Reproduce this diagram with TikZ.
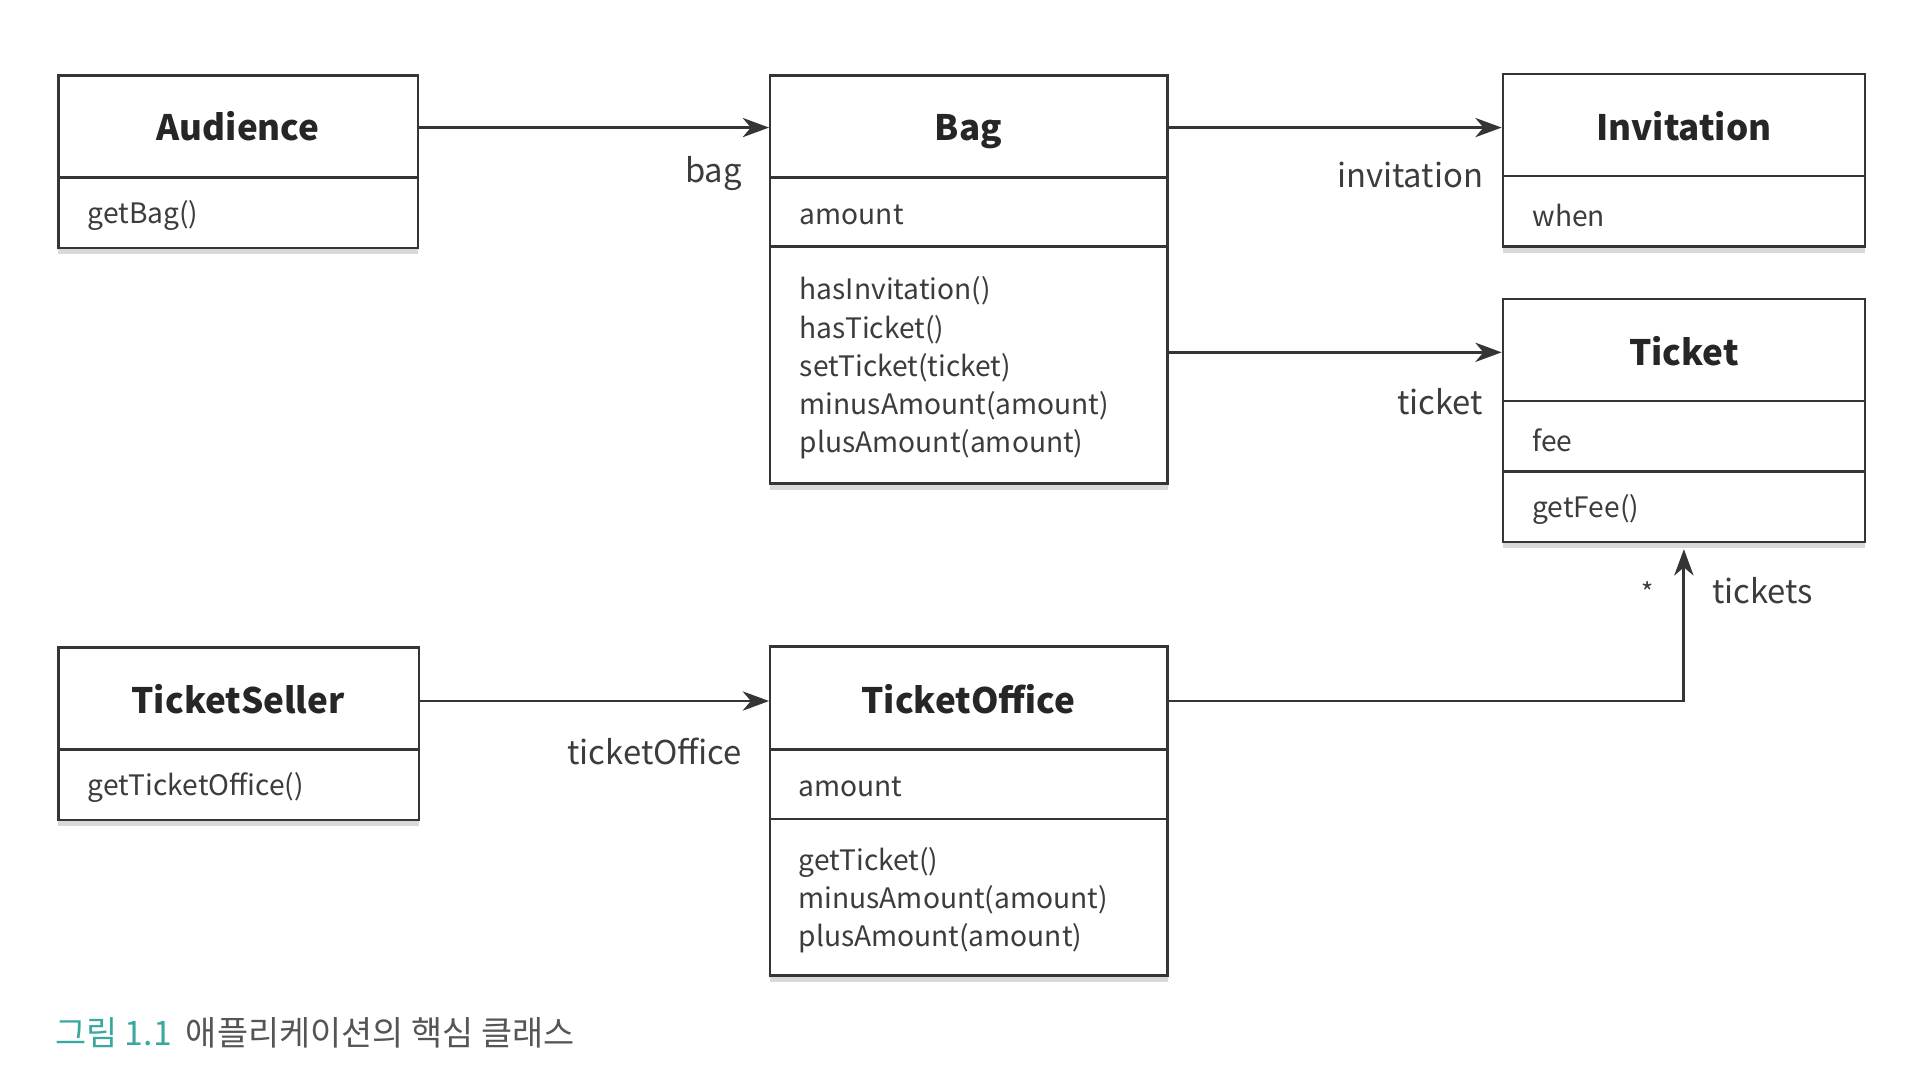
\documentclass[tikz,border=0pt]{standalone}
\usepackage{fontspec}
\setmainfont{Noto Sans CJK KR}
\usetikzlibrary{arrows.meta,fit,shadows}
\definecolor{linegray}{HTML}{353535}
\definecolor{textgray}{HTML}{3C3C3C}
\definecolor{capteal}{HTML}{3AA89E}
\definecolor{capgray}{HTML}{555555}
\begin{document}
\begin{tikzpicture}[x=0.6pt,y=-0.6pt,
  classbox/.style={draw=linegray,line width=1.2pt,fill=white,inner sep=0pt,
    drop shadow={shadow xshift=0pt,shadow yshift=-3pt,opacity=0.3}},
  divider/.style={draw=linegray,line width=1.2pt},
  classname/.style={font=\fontsize{17.3}{20}\selectfont\bfseries,text=black!85,text height=14.6pt,text depth=2pt},
  member/.style={anchor=west,font=\fontsize{13.9}{18.9}\selectfont,text=textgray,align=left,inner sep=0pt},
  role/.style={font=\fontsize{16.2}{19}\selectfont,text=textgray,inner sep=0pt},
  assoc/.style={draw=linegray,line width=1.4pt,-{Stealth[length=13pt,width=9.5pt,inset=4pt]}}]
\useasboundingbox (0,0) rectangle (1568,898.8);
\node[classbox,fit={(48,62) (344,204)}] (audience) {};
\node[classbox,fit={(634,62) (961,398)}] (bag) {};
\node[classbox,fit={(1237,61) (1535,203)}] (invitation) {};
\node[classbox,fit={(1237,246) (1535,446)}] (ticket) {};
\node[classbox,fit={(48,533) (345,675)}] (seller) {};
\node[classbox,fit={(634,532) (961,803)}] (office) {};
\draw[divider] (audience.west |- 0,146) -- (audience.east |- 0,146);
\draw[divider] (bag.west |- 0,146) -- (bag.east |- 0,146);
\draw[divider] (bag.west |- 0,203) -- (bag.east |- 0,203);
\draw[divider] (invitation.west |- 0,145) -- (invitation.east |- 0,145);
\draw[divider] (ticket.west |- 0,330) -- (ticket.east |- 0,330);
\draw[divider] (ticket.west |- 0,388) -- (ticket.east |- 0,388);
\draw[divider] (seller.west |- 0,617) -- (seller.east |- 0,617);
\draw[divider] (office.west |- 0,617) -- (office.east |- 0,617);
\draw[divider] (office.west |- 0,674) -- (office.east |- 0,674);
\node[classname] (audienceT) at (196,105) {Audience};
\node[classname] (bagT) at (797,105) {Bag};
\node[classname] (invitationT) at (1386,105) {Invitation};
\node[classname] (ticketT) at (1386,290) {Ticket};
\node[classname] (sellerT) at (196,577) {TicketSeller};
\node[classname] (officeT) at (797,577) {TicketOffice};
\node[member] (audienceM) at (72,177) {getBag()};
\node[member] (bagA) at (658,177) {amount};
\node[member] (bagM) at (658,303) {hasInvitation()\\hasTicket()\\setTicket(ticket)\\minusAmount(amount)\\plusAmount(amount)};
\node[member] (invitationA) at (1261,177) {when};
\node[member] (ticketA) at (1261,362) {fee};
\node[member] (ticketM) at (1261,419) {getFee()};
\node[member] (sellerM) at (72,648) {getTicketOffice()};
\node[member] (officeA) at (657,648) {amount};
\node[member] (officeM) at (657,741) {getTicket()\\minusAmount(amount)\\plusAmount(amount)};
\draw[assoc] (audienceT -| audience.east) -- (audienceT -| bag.west);
\draw[assoc] (bagT -| bag.east) -- (bagT -| invitation.west);
\draw[assoc] (ticketT -| bag.east) -- (ticketT -| ticket.west);
\draw[assoc] (sellerT -| seller.east) -- (sellerT -| office.west);
\draw[assoc] (officeT -| office.east) -| ([yshift=-3pt]ticket.south);
\node[role,anchor=base east] (bagR) at (611,150) {bag};
\node[role,anchor=base east] (invitationR) at (1221,154) {invitation};
\node[role,anchor=base east] (ticketR) at (1221,341) {ticket};
\node[role,anchor=base east] (officeR) at (611,629) {ticketOffice};
\node[role,anchor=base west] (ticketsR) at (1409,497) {tickets};
\node[role,font=\fontsize{13}{15}\selectfont] (ticketsM) at (1356,487) {*};
\node[anchor=west,inner sep=0pt,font=\fontsize{16.7}{19}\selectfont] (caption) at (45,850)
  {\textcolor{capteal}{그림 1.1}\hspace{7pt}\textcolor{capgray}{애플리케이션의 핵심 클래스}};
\end{tikzpicture}
\end{document}
